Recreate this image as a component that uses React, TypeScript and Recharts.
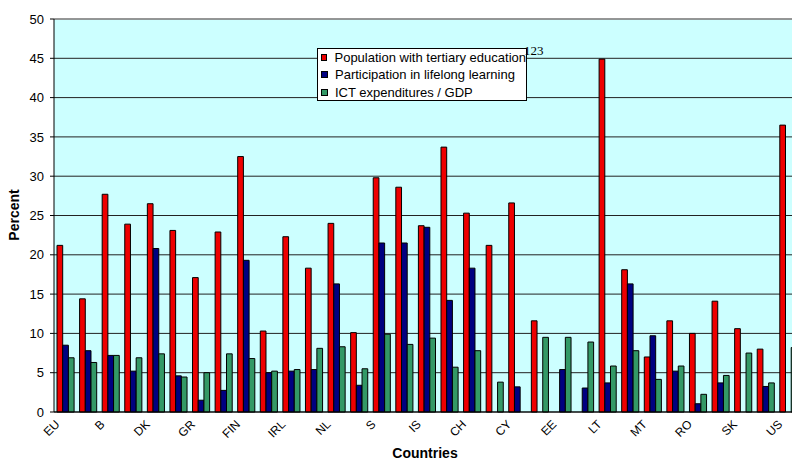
import React from 'react';
import { BarChart, Bar, XAxis, YAxis, CartesianGrid, Legend, ReferenceLine } from 'recharts';

const countries = ['EU', 'A', 'B', 'D', 'DK', 'E', 'GR', 'F', 'FIN', 'I', 'IRL', 'L', 'NL', 'P', 'S', 'UK', 'IS', 'NO', 'CH', 'BG', 'CY', 'CZ', 'EE', 'HU', 'LT', 'LV', 'MT', 'PL', 'RO', 'SI', 'SK', 'TR', 'US'];
const tertiary = [21.2, 14.4, 27.7, 23.9, 26.5, 23.1, 17.1, 22.9, 32.5, 10.3, 22.3, 18.3, 24.0, 10.1, 29.8, 28.6, 23.7, 33.7, 25.3, 21.2, 26.6, 11.6, null, null, 44.9, 18.1, 7.0, 11.6, 10.0, 14.1, 10.6, 8.0, 36.5];
const lifelong = [8.5, 7.8, 7.2, 5.2, 20.8, 4.6, 1.5, 2.75, 19.3, 5.0, 5.2, 5.4, 16.3, 3.4, 21.5, 21.5, 23.5, 14.2, 18.3, null, 3.2, null, 5.4, 3.05, 3.7, 16.3, 9.7, 5.2, 1.05, 3.7, null, 3.25, null];
const ict = [6.9, 6.3, 7.2, 6.9, 7.4, 4.45, 5.0, 7.4, 6.8, 5.2, 5.4, 8.1, 8.3, 5.5, 9.9, 8.6, 9.4, 5.7, 7.8, 3.8, null, 9.5, 9.5, 8.9, 5.85, 7.8, 4.15, 5.85, 2.25, 4.65, 7.5, 3.7, 8.2];
const yTicks = [0, 5, 10, 15, 20, 25, 30, 35, 40, 45, 50];
const boundaryTicks = countries.map((_, i) => i);
const seriesNames = ['Population with tertiary education', 'Participation in lifelong learning', 'ICT expenditures / GDP'];
const seriesKeys = ['tertiary', 'lifelong', 'ict'];
const seriesColors = ['#EE0000', '#000080', '#339966'];

const data = countries.map((c, i) => ({
  country: c,
  tertiary: tertiary[i],
  lifelong: lifelong[i],
  ict: ict[i],
}));

const FONT = "Arial, 'Liberation Sans', sans-serif";
const CHART_W = 810;
const LEFT = 54;
const RIGHT = 10.6;

function LegendBox() {
  return (
    <div
      style={{
        width: 210,
        height: 53,
        boxSizing: 'border-box',
        border: '1px solid #000',
        background: '#fff',
        fontFamily: FONT,
        fontSize: 13,
        color: '#000',
      }}
    >
      {seriesNames.map((n, i) => (
        <div key={n} style={{ height: 17.3, lineHeight: '17.3px', display: 'flex', alignItems: 'center', whiteSpace: 'nowrap' }}>
          <span
            style={{
              display: 'inline-block',
              width: 5,
              height: 5,
              border: '1px solid #000',
              background: seriesColors[i],
              marginLeft: 3,
              marginRight: 7,
            }}
          />
          <span>{n}</span>
        </div>
      ))}
    </div>
  );
}

export default function App() {
  return (
    <div style={{ position: 'fixed', left: 0, top: 0, width: 792, height: 459, overflow: 'hidden', background: '#fff' }}>
      <BarChart
        width={CHART_W}
        height={459}
        data={data}
        margin={{ top: 19, right: RIGHT, left: 0, bottom: 0 }}
        barGap={0}
      >
        <CartesianGrid vertical={false} stroke="#222" fill="#CCFFFF" fillOpacity={1} />
        <ReferenceLine y={50} stroke="#999" strokeWidth={1.5} />
        <XAxis
          xAxisId="bound"
          type="number"
          domain={[0, countries.length]}
          ticks={boundaryTicks}
          interval={0}
          allowDataOverflow
          height={0}
          axisLine={false}
          tickLine={{ stroke: '#000' }}
          tickSize={4}
          tick={false}
        />
        <XAxis
          dataKey="country"
          interval={0}
          height={47}
          tickLine={false}
          tickSize={0}
          tickMargin={7}
          angle={-45}
          textAnchor="end"
          tickFormatter={(v: string, i: number) => (i % 2 === 0 ? v : '')}
          tick={{ textAnchor: 'end', fontSize: 12, fill: '#000', fontFamily: FONT, dx: -11 }}
          axisLine={{ stroke: '#000' }}
        />
        <YAxis
          width={LEFT}
          domain={[0, 50]}
          ticks={yTicks}
          interval={0}
          tick={{ fontSize: 13, fill: '#000', fontFamily: FONT }}
          tickSize={4}
          tickMargin={6}
          axisLine={{ stroke: '#000' }}
          tickLine={{ stroke: '#000' }}
        />
        <Legend
          layout="horizontal"
          verticalAlign="middle"
          align="center"
          content={() => <LegendBox />}
          wrapperStyle={{ left: 317, top: 48, width: 210, height: 53 }}
        />
        {seriesKeys.map((k, i) => (
          <Bar
            key={k}
            dataKey={k}
            name={seriesNames[i]}
            fill={seriesColors[i]}
            stroke="#000"
            strokeWidth={1}
            barSize={5.7}
            isAnimationActive={false}
          />
        ))}
      </BarChart>
      <svg width={792} height={459} style={{ position: 'absolute', left: 0, top: 0, pointerEvents: 'none' }}>
        <text x={19} y={215} textAnchor="middle" transform="rotate(-90 19 215)" fontSize={14} fontWeight="bold" fontFamily={FONT} fill="#000">
          Percent
        </text>
        <text x={425} y={458} textAnchor="middle" fontSize={14} fontWeight="bold" fontFamily={FONT} fill="#000">
          Countries
        </text>
        <text x={524} y={55} fontSize={13} fontFamily="'Liberation Serif', 'DejaVu Serif', serif" fill="#000">
          123
        </text>
      </svg>
    </div>
  );
}
